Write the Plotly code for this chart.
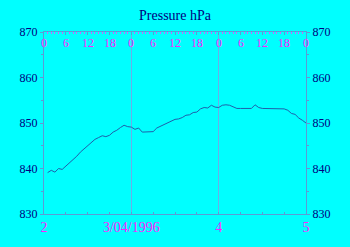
import plotly.graph_objects as go

# hours after 00:00 on day 2 (April 1996)
hours = list(range(1, 73))
pressure = [
    839.1, 839.6, 839.2, 840.0, 839.8, 840.5, 841.1, 841.9, 842.7, 843.6,
    844.3, 845.1, 845.7, 846.4, 846.8, 847.2, 847.0, 847.3, 848.0, 848.4,
    849.0, 849.5, 849.2, 849.1, 848.6, 848.9, 848.0, 848.0, 848.0, 848.1,
    848.9, 849.3, 849.6, 850.0, 850.5, 850.8, 850.9, 851.2, 851.7, 851.8,
    852.3, 852.4, 853.1, 853.4, 853.3, 853.9, 853.5, 853.4, 853.9, 854.0,
    853.9, 853.6, 853.2, 853.2, 853.2, 853.2, 853.2, 854.0, 853.4, 853.2,
    853.2, 853.2, 853.2, 853.2, 853.2, 853.1, 852.8, 852.1, 851.9, 851.1,
    850.6, 850.0,
]
days = [2 + h / 24 for h in hours]

bottom_tickvals = [2, 3, 4, 5]
bottom_ticktext = ["2", "3/04/1996", "4", "5"]
top_tickvals = [2 + k * 0.25 for k in range(13)]
top_ticktext = ["0", "6", "12", "18"] * 3 + ["0"]
y_ticks = [830, 840, 850, 860, 870]

BG = "#00ffff"
AX = "#5b9bd5"
MAG = "#ff22ff"
NAVY = "#000080"
LINE = "#1f5faa"
SERIF = "Liberation Serif"

fig = go.Figure()
fig.add_trace(go.Scatter(x=days, y=pressure, mode="lines",
                         line=dict(color=LINE, width=1), showlegend=False))
fig.add_trace(go.Scatter(x=[2, 5], y=[830, 870], mode="markers", xaxis="x2", yaxis="y2",
                         marker=dict(opacity=0), showlegend=False, hoverinfo="skip"))

# top hour labels drawn as annotations so the edge "0" labels are kept
for tv, tt in zip(top_tickvals, top_ticktext):
    fig.add_annotation(x=tv, y=1, xref="x", yref="paper", text=tt, showarrow=False,
                       yanchor="top", yshift=-2,
                       font=dict(family=SERIF, size=12, color=MAG))

fig.update_layout(
    width=350, height=247,
    paper_bgcolor=BG, plot_bgcolor=BG,
    margin=dict(l=44, r=44, t=32, b=31),
    title=dict(text="Pressure hPa", x=0.5, xanchor="center", y=0.94, yanchor="middle",
               font=dict(family=SERIF, size=14, color=NAVY)),
    xaxis=dict(range=[2, 5], tickvals=bottom_tickvals, ticktext=bottom_ticktext,
               tickfont=dict(family=SERIF, size=14, color=MAG),
               showline=True, linecolor=AX, linewidth=1,
               ticks="inside", ticklen=2, tickcolor=AX,
               minor=dict(dtick=0.25, ticks="inside", ticklen=2, tickcolor=AX),
               showgrid=True, gridcolor="#6aaee8", gridwidth=1, zeroline=False),
    xaxis2=dict(range=[2, 5], overlaying="x", side="top", anchor="y",
                tickvals=top_tickvals, showticklabels=False,
                showline=True, linecolor=AX, linewidth=1,
                ticks="inside", ticklen=3, tickcolor=AX,
                minor=dict(dtick=1 / 24, ticks="inside", ticklen=2, tickcolor="#cc66ff"),
                showgrid=False, zeroline=False),
    yaxis=dict(range=[830, 870], tickvals=y_ticks,
               tickfont=dict(family=SERIF, size=12, color=NAVY),
               showline=True, linecolor=AX, linewidth=1,
               ticks="outside", ticklen=3, tickcolor=AX,
               ticklabeloverflow="allow",
               minor=dict(dtick=5, ticks="outside", ticklen=2, tickcolor=AX),
               showgrid=False, zeroline=False),
    yaxis2=dict(range=[830, 870], overlaying="y", side="right", anchor="x",
                tickvals=y_ticks,
                tickfont=dict(family=SERIF, size=12, color=NAVY),
                showline=True, linecolor=AX, linewidth=1,
                ticks="outside", ticklen=3, tickcolor=AX,
                ticklabeloverflow="allow",
                minor=dict(dtick=5, ticks="outside", ticklen=2, tickcolor=AX),
                showgrid=False, zeroline=False),
)

fig.write_html("out.html")
